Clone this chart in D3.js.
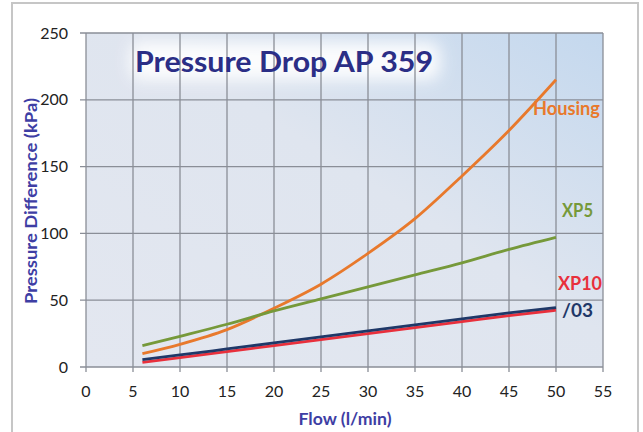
<!DOCTYPE html>
<html>
<head>
<meta charset="utf-8">
<script src="https://cdn.jsdelivr.net/npm/d3@7"></script>
<style>
  body { margin: 0; background: #fff; }
  svg { display: block; font-family: Lato, "Open Sans", sans-serif; }
</style>
</head>
<body>
<svg id="canvas" width="643" height="432"></svg>
<script>
// data
let flow = [6, 10, 15, 20, 25, 30, 35, 40, 45, 50];
let housing = [10, 17, 28, 44, 62, 85, 111, 143, 177, 215];
let xp5 = [16, 23, 32, 42, 51, 60, 69, 78, 88, 97];
let o3 = [5.5, 9, 13.5, 18, 22.5, 27, 31.5, 36, 40.5, 44.5];
let xp10 = [3.5, 7, 11.5, 16, 20.5, 25, 29.5, 34, 38.5, 42.5];

let xTicks = [0, 5, 10, 15, 20, 25, 30, 35, 40, 45, 50, 55];
let yTicks = [0, 50, 100, 150, 200, 250];

let series = [
  { name: "Housing", values: housing, color: "#e8792c", dx: 44, dy: 35, len: 67 },
  { name: "XP5", values: xp5, color: "#76993a", dx: 37, dy: -20, len: 31 },
  { name: "XP10", values: xp10, color: "#e8303c", dx: 46, dy: -20, len: 44 },
  { name: "/03", values: o3, color: "#1f3868", dx: 37, dy: 9.5, len: 31 }
];

let svg = d3.select("#canvas");

let plotLeft = 86, plotRight = 603, plotTop = 33, plotBottom = 367;

let x = d3.scaleLinear().domain([0, 55]).range([plotLeft, plotRight]);
let y = d3.scaleLinear().domain([0, 250]).range([plotBottom, plotTop]);

// outer frame
svg.append("rect")
  .attr("x", 12).attr("y", 3)
  .attr("width", 626).attr("height", 440)
  .attr("fill", "#fff")
  .attr("stroke", "#c6c6c6")
  .attr("stroke-width", 2);

let defs = svg.append("defs");
let grad = defs.append("linearGradient")
  .attr("id", "bg")
  .attr("x1", "0%").attr("y1", "100%")
  .attr("x2", "100%").attr("y2", "0%");
grad.append("stop").attr("offset", "0%").attr("stop-color", "#e3e7f0");
grad.append("stop").attr("offset", "55%").attr("stop-color", "#dfe5ef");
grad.append("stop").attr("offset", "100%").attr("stop-color", "#c4d8ee");

defs.append("filter").attr("id", "glow")
  .attr("x", "-20%").attr("y", "-50%").attr("width", "140%").attr("height", "200%")
  .append("feGaussianBlur").attr("stdDeviation", 8);

svg.append("rect")
  .attr("x", plotLeft).attr("y", plotTop)
  .attr("width", plotRight - plotLeft).attr("height", plotBottom - plotTop)
  .attr("fill", "url(#bg)");

// white glow behind the title
svg.append("rect")
  .attr("x", 130).attr("y", 42)
  .attr("width", 310).attr("height", 38)
  .attr("rx", 10)
  .attr("fill", "#fff")
  .attr("opacity", 0.9)
  .attr("filter", "url(#glow)");

// grid
svg.append("g")
  .selectAll("line")
  .data(xTicks)
  .enter()
  .append("line")
  .attr("x1", (d) => x(d)).attr("x2", (d) => x(d))
  .attr("y1", plotTop).attr("y2", plotBottom + 5)
  .attr("stroke", "#8a8e97")
  .attr("stroke-width", 1.3);

svg.append("g")
  .selectAll("line")
  .data(yTicks)
  .enter()
  .append("line")
  .attr("x1", plotLeft - 6).attr("x2", plotRight)
  .attr("y1", (d) => y(d)).attr("y2", (d) => y(d))
  .attr("stroke", "#8a8e97")
  .attr("stroke-width", 1.3);

// tick labels
svg.append("g")
  .selectAll("text")
  .data(xTicks)
  .enter()
  .append("text")
  .attr("x", (d) => x(d))
  .attr("y", 397)
  .attr("text-anchor", "middle")
  .attr("font-size", 16)
  .attr("fill", "#222")
  .text((d) => d);

svg.append("g")
  .selectAll("text")
  .data(yTicks)
  .enter()
  .append("text")
  .attr("x", 68)
  .attr("y", (d) => y(d) + 5.5)
  .attr("text-anchor", "end")
  .attr("font-size", 16)
  .attr("fill", "#222")
  .text((d) => d);

// title
svg.append("text")
  .attr("x", 135)
  .attr("y", 72)
  .attr("font-size", 28)
  .attr("font-weight", "bold")
  .attr("fill", "#2b2e86")
  .attr("textLength", 298)
  .attr("lengthAdjust", "spacingAndGlyphs")
  .text("Pressure Drop AP 359");

// axis titles
svg.append("text")
  .attr("transform", "translate(37, 201) rotate(-90)")
  .attr("text-anchor", "middle")
  .attr("font-size", 17)
  .attr("font-weight", "bold")
  .attr("fill", "#3e3ea4")
  .attr("textLength", 206)
  .attr("lengthAdjust", "spacingAndGlyphs")
  .text("Pressure Difference (kPa)");

svg.append("text")
  .attr("x", 345)
  .attr("y", 425)
  .attr("text-anchor", "middle")
  .attr("font-size", 17)
  .attr("font-weight", "bold")
  .attr("fill", "#3e3ea4")
  .attr("textLength", 93)
  .attr("lengthAdjust", "spacingAndGlyphs")
  .text("Flow (l/min)");

// curves
let line = d3.line()
  .x((d, i) => x(flow[i]))
  .y((d) => y(d))
  .curve(d3.curveMonotoneX);

svg.append("g")
  .selectAll("path")
  .data(series)
  .enter()
  .append("path")
  .attr("d", (s) => line(s.values))
  .attr("fill", "none")
  .attr("stroke", (s) => s.color)
  .attr("stroke-width", 2.8);

svg.append("g")
  .selectAll("text")
  .data(series)
  .enter()
  .append("text")
  .attr("x", (s) => x(50) + s.dx)
  .attr("y", (s) => y(s.values[s.values.length - 1]) + s.dy)
  .attr("text-anchor", "end")
  .attr("font-size", 18)
  .attr("font-weight", "bold")
  .attr("fill", (s) => s.color)
  .attr("textLength", (s) => s.len)
  .attr("lengthAdjust", "spacingAndGlyphs")
  .text((s) => s.name);
</script>
</body>
</html>
